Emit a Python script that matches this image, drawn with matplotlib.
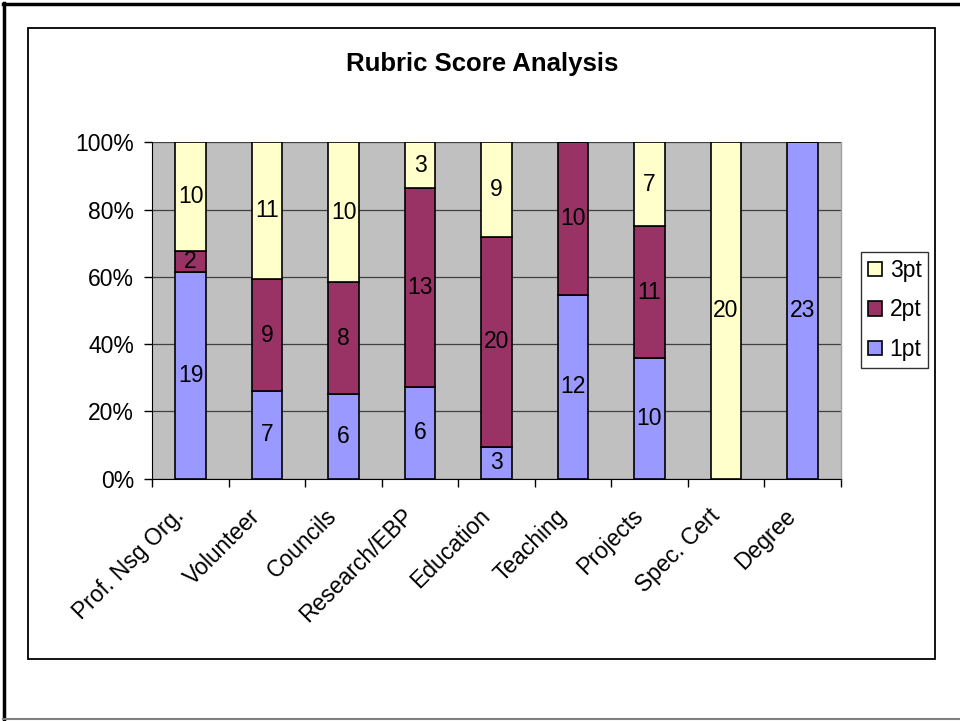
import matplotlib
matplotlib.use("Agg")
import matplotlib.pyplot as plt
from matplotlib.patches import Rectangle
from matplotlib.lines import Line2D
from matplotlib.transforms import ScaledTranslation
import numpy as np

plt.rcParams['font.family'] = ['Liberation Sans', 'DejaVu Sans']

categories = ["Prof. Nsg Org.", "Volunteer", "Councils", "Research/EBP", "Education",
              "Teaching", "Projects", "Spec. Cert", "Degree"]
pt1 = [19, 7, 6, 6, 3, 12, 10, 0, 23]
pt2 = [2, 9, 8, 13, 20, 10, 11, 0, 0]
pt3 = [10, 11, 10, 3, 9, 0, 7, 20, 0]
series_names = ["1pt", "2pt", "3pt"]
colors = ["#9999FF", "#993366", "#FFFFCC"]
yticks = [0, 20, 40, 60, 80, 100]

W, H = 960, 721
fig = plt.figure(figsize=(W / 100, H / 100), dpi=100)

# frames
fig.add_artist(Line2D([4 / W, 4 / W], [0, 1 - 3 / H], transform=fig.transFigure, color='black', lw=2.5))
fig.add_artist(Line2D([3 / W, 1], [1 - 4 / H, 1 - 4 / H], transform=fig.transFigure, color='black', lw=2.5))
fig.add_artist(Line2D([3 / W, 1], [1 - 719 / H, 1 - 719 / H], transform=fig.transFigure, color='#808080', lw=1.5))
fig.add_artist(Rectangle((28 / W, 1 - 659 / H), (935 - 28) / W, (659 - 28) / H,
                         transform=fig.transFigure, fill=False, edgecolor='black', lw=1.3))

left, right, top, bottom = 152.3, 840.7, 142.3, 478.5
ax = fig.add_axes([left / W, 1 - bottom / H, (right - left) / W, (bottom - top) / H])
ax.set_facecolor('#C0C0C0')

data = np.array([pt1, pt2, pt3], dtype=float)
totals = data.sum(axis=0)
pct = data / totals * 100
x = np.arange(len(categories))
base = np.zeros(len(categories))
for i in range(3):
    ax.bar(x, pct[i], bottom=base, width=0.4, color=colors[i], edgecolor='black',
           linewidth=1.2, label=series_names[i], zorder=3)
    for j in range(len(categories)):
        if data[i, j] > 0:
            ax.text(x[j], base[j] + pct[i][j] / 2, f"{int(data[i, j])}", ha='center', va='center',
                    fontsize=16.5, color='black', zorder=4)
    base += pct[i]

ax.set_xlim(-0.5, len(categories) - 0.5)
ax.set_ylim(0, 100)
ax.set_yticks(yticks)
ax.set_yticklabels([f"{v}%" for v in yticks], fontsize=16.5)
ax.yaxis.grid(True, color='#404040', linewidth=0.9, zorder=1)
ax.set_axisbelow(True)

ax.set_xticks(np.arange(len(categories) + 1) - 0.5)
ax.set_xticklabels([])
ax.tick_params(axis='x', which='major', length=6, width=1, direction='out')
ax.tick_params(axis='y', length=6, width=1, direction='out', pad=7)

# category labels (rotated 45°)
off = ScaledTranslation(-18 / 100, -26 / 100, fig.dpi_scale_trans)
for j, cat in enumerate(categories):
    ax.text(x[j], 0, cat, transform=ax.get_xaxis_transform() + off, rotation=45,
            ha='right', va='top', rotation_mode='anchor', fontsize=16.5, clip_on=False)

ax.spines['top'].set_visible(False)
ax.spines['right'].set_color('#A0A0A0')
ax.spines['right'].set_linewidth(1)
ax.spines['left'].set_color('black')
ax.spines['bottom'].set_color('black')

fig.text(482 / W, 1 - 64 / H, "Rubric Score Analysis", ha='center', va='center',
         fontsize=18.5, fontweight='bold')

handles, labels = ax.get_legend_handles_labels()
leg = fig.legend(handles[::-1], labels[::-1], loc='upper left',
                 bbox_to_anchor=(861 / W, 1 - 252 / H), fontsize=16.5, frameon=True,
                 fancybox=False, edgecolor='black', handlelength=0.6, handleheight=0.6,
                 handletextpad=0.35, labelspacing=0.72, borderpad=0.3, borderaxespad=0)
leg.get_frame().set_linewidth(1.0)

fig.savefig("out.png", dpi=100)
